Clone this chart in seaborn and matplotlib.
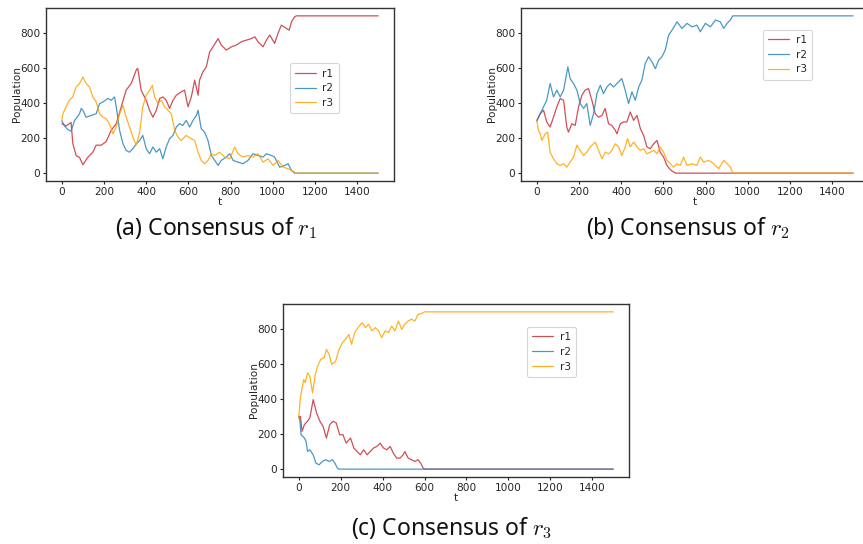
import numpy as np
import pandas as pd
import matplotlib
matplotlib.use("Agg")
import matplotlib.pyplot as plt
import seaborn as sns

# ---------------- data ----------------
T_END = 1500

# Panel (a): consensus of r1
a_t_r1 = [0, 20, 44, 52, 68, 84, 100, 123, 147, 163, 187, 210, 234, 258, 282, 305, 329, 353, 360,
          376, 400, 416, 432, 448, 464, 479, 495, 511, 527, 543, 566, 582, 598, 614, 630, 646, 653,
          669, 685, 701, 717, 741, 756, 780, 804, 828, 851, 875, 899, 915, 930, 954, 970, 986, 1009,
          1025, 1041, 1065, 1078, 1089, 1104, 1112, 1500]
a_r1 = [283, 270, 290, 170, 100, 90, 48, 90, 120, 160, 160, 180, 245, 283, 380, 475, 513, 590, 600,
        475, 417, 360, 320, 360, 427, 436, 417, 370, 417, 446, 465, 475, 380, 436, 532, 446, 532,
        580, 608, 694, 723, 770, 733, 704, 723, 733, 752, 761, 770, 780, 752, 723, 761, 790, 742,
        800, 847, 828, 818, 866, 895, 900, 900]

a_t_r2 = [0, 13, 28, 44, 60, 84, 92, 100, 115, 139, 163, 179, 195, 218, 234, 250, 258, 274, 290,
          305, 321, 337, 353, 369, 384, 400, 416, 432, 448, 464, 479, 495, 511, 527, 543, 558, 574,
          590, 606, 622, 638, 646, 661, 677, 693, 709, 725, 741, 756, 780, 796, 812, 835, 859, 883,
          906, 930, 954, 970, 994, 1009, 1033, 1057, 1073, 1089, 1104, 1500]
a_r2 = [300, 270, 250, 240, 300, 340, 370, 360, 320, 330, 340, 398, 407, 427, 417, 436, 380, 245, 168,
        130, 120, 140, 168, 187, 216, 140, 111, 150, 120, 140, 82, 150, 197, 216, 264, 283, 273,
        302, 264, 302, 330, 360, 254, 235, 187, 101, 73, 44, 73, 92, 111, 73, 63, 54, 73,
        111, 101, 92, 111, 101, 92, 34, 44, 54, 15, 0, 0]

a_t_r3 = [0, 5, 20, 36, 52, 68, 84, 100, 115, 131, 147, 163, 179, 195, 210, 226, 242, 258, 274, 290,
          305, 321, 337, 353, 369, 384, 400, 416, 429, 440, 456, 472, 487, 503, 519, 535, 551, 566,
          590, 614, 630, 646, 661, 677, 693, 709, 725, 748, 772, 796, 820, 835, 859, 883, 906, 930,
          954, 978, 1002, 1025, 1049, 1073, 1097, 1109, 1500]
a_r3 = [300, 340, 380, 417, 436, 493, 513, 550, 513, 493, 436, 407, 340, 320, 312, 283, 225, 264, 340, 388,
        320, 264, 206, 160, 235, 380, 446, 475, 503, 436, 398, 417, 380, 360, 340, 245, 206, 187,
        216, 197, 187, 120, 73, 54, 73, 111, 101, 120, 92, 82, 150, 111, 92, 101, 92, 111,
        63, 82, 44, 73, 34, 25, 11, 0, 0]

# Panel (b): consensus of r2
b_t_r1 = [0, 16, 32, 47, 63, 79, 95, 111, 127, 142, 150, 166, 182, 198, 214, 229, 245, 261, 277,
          293, 309, 324, 340, 356, 372, 380, 396, 411, 427, 443, 459, 475, 491, 506, 522, 538, 554,
          570, 585, 601, 617, 633, 657, 1500]
b_r1 = [300, 340, 360, 293, 264, 320, 380, 427, 417, 264, 235, 283, 273, 380, 446, 475, 484, 417, 340,
        320, 330, 370, 283, 273, 245, 225, 283, 293, 293, 350, 302, 330, 254, 216, 150, 140, 168,
        187, 120, 92, 44, 19, 0, 0]

b_t_r2 = [0, 16, 32, 47, 63, 79, 95, 111, 127, 147, 158, 174, 190, 206, 222, 237, 253, 269, 285,
          301, 316, 332, 348, 364, 380, 403, 419, 435, 451, 467, 483, 498, 514, 530, 546, 562, 578,
          593, 609, 625, 641, 665, 688, 712, 736, 759, 775, 799, 823, 847, 870, 886, 902, 918, 929, 1500]
b_r2 = [300, 340, 380, 417, 513, 436, 475, 436, 475, 608, 541, 513, 475, 398, 370, 398, 273, 340, 455,
        503, 455, 493, 513, 493, 513, 541, 475, 398, 465, 417, 493, 532, 627, 666, 637, 598, 647,
        666, 704, 790, 818, 866, 828, 857, 837, 847, 809, 857, 837, 876, 866, 828, 857, 876, 900, 900]

b_t_r3 = [0, 8, 16, 24, 40, 51, 63, 79, 95, 111, 127, 142, 158, 174, 190, 206, 222, 237, 253, 277,
          293, 309, 324, 340, 356, 372, 388, 403, 419, 430, 443, 459, 475, 491, 506, 522, 538, 554,
          570, 585, 601, 617, 633, 649, 665, 680, 696, 712, 736, 759, 775, 791, 815, 839, 862, 886,
          902, 918, 929, 1500]
b_r3 = [300, 245, 225, 187, 225, 235, 120, 82, 54, 44, 54, 34, 63, 92, 160, 130, 101, 120, 150, 178,
        130, 82, 120, 111, 130, 168, 150, 101, 150, 197, 150, 178, 150, 130, 140, 111, 120, 130,
        111, 150, 120, 73, 54, 34, 54, 44, 92, 44, 54, 44, 92, 63, 73, 54, 25, 73,
        54, 34, 0, 0]

# Panel (c): consensus of r3
c_t_r1 = [0, 8, 16, 27, 42, 53, 69, 85, 101, 116, 132, 148, 164, 179, 195, 211, 226, 247, 263, 278,
          294, 310, 326, 341, 357, 373, 388, 404, 420, 436, 451, 467, 483, 498, 506, 522, 538, 554,
          569, 582, 593, 601, 1500]
c_r1 = [300, 302, 216, 255, 274, 293, 398, 322, 274, 245, 178, 255, 274, 264, 197, 197, 149, 178, 121, 101,
        82, 111, 82, 101, 121, 130, 149, 121, 111, 130, 92, 63, 63, 82, 101, 63, 54, 44,
        54, 34, 6, 0, 0]

c_t_r2 = [0, 6, 11, 19, 27, 35, 42, 53, 69, 82, 97, 113, 129, 145, 160, 173, 184, 192, 1500]
c_r2 = [300, 274, 197, 188, 178, 159, 101, 111, 82, 34, 25, 44, 54, 44, 54, 34, 6, 0, 0]

c_t_r3 = [0, 8, 16, 24, 31, 42, 53, 66, 79, 90, 105, 121, 132, 145, 157, 176, 192, 208, 223, 239,
          252, 267, 283, 302, 318, 333, 349, 365, 381, 396, 412, 428, 443, 459, 475, 491, 506, 522,
          538, 554, 569, 585, 601, 1500]
c_r3 = [300, 408, 465, 513, 494, 551, 532, 436, 542, 590, 628, 637, 685, 657, 599, 618, 685, 724, 743, 771,
        714, 781, 810, 838, 810, 829, 791, 810, 791, 752, 791, 781, 819, 791, 848, 800, 829, 848,
        858, 848, 886, 890, 900, 900]

series_names = ["r1", "r2", "r3"]
colors = ["#c8303a", "#2a86bb", "#ffa500"]
captions = [r"(a) Consensus of $r_1$", r"(b) Consensus of $r_2$", r"(c) Consensus of $r_3$"]


def long_frame(ts, vs):
    parts = []
    for name, t, v in zip(series_names, ts, vs):
        parts.append(pd.DataFrame({"t": t, "Population": v, "series": name}))
    return pd.concat(parts, ignore_index=True)


panels = [
    long_frame([a_t_r1, a_t_r2, a_t_r3], [a_r1, a_r2, a_r3]),
    long_frame([b_t_r1, b_t_r2, b_t_r3], [b_r1, b_r2, b_r3]),
    long_frame([c_t_r1, c_t_r2, c_t_r3], [c_r1, c_r2, c_r3]),
]

# ---------------- figure ----------------
sns.set_style("ticks")
plt.rcParams["font.family"] = ["DejaVu Sans"]
plt.rcParams["mathtext.fontset"] = "cm"

W, H = 863, 544
fig = plt.figure(figsize=(W / 100, H / 100), dpi=100)
rects = [
    [46 / W, 1 - 181 / H, 348 / W, 173 / H],
    [521 / W, 1 - 181 / H, 348 / W, 173 / H],
    [283 / W, 1 - 477 / H, 346 / W, 173 / H],
]
legend_anchor = [(0.70, 0.68), (0.695, 0.875), (0.705, 0.868)]
cap_pos = [(216, 228), (688, 228), (451, 528)]

palette = dict(zip(series_names, colors))
fs = 7.6
for i, (df, rect) in enumerate(zip(panels, rects)):
    ax = fig.add_axes(rect)
    sns.lineplot(data=df, x="t", y="Population", hue="series", palette=palette,
                 estimator=None, sort=False, linewidth=0.9, alpha=0.85, ax=ax)
    ax.set_xlim(-75, 1575)
    ax.set_ylim(-45, 945)
    ax.set_xticks([0, 200, 400, 600, 800, 1000, 1200, 1400])
    ax.set_yticks([0, 200, 400, 600, 800])
    ax.tick_params(labelsize=fs, length=2.5, width=0.8, pad=1.5, color="#222222")
    ax.set_xlabel("t", fontsize=fs, labelpad=0)
    ax.set_ylabel("Population", fontsize=fs, labelpad=-1)
    for sp in ax.spines.values():
        sp.set_linewidth(1.0)
        sp.set_color("#333333")
    leg = ax.legend(loc="upper left", bbox_to_anchor=legend_anchor[i], fontsize=fs,
                    frameon=True, borderpad=0.5, labelspacing=0.45, handlelength=2.0,
                    handletextpad=0.6, borderaxespad=0)
    leg.get_frame().set_edgecolor("#cccccc")
    leg.get_frame().set_linewidth(0.8)
    cx, cy = cap_pos[i]
    fig.text(cx / W, 1 - cy / H, captions[i], ha="center", va="center",
             fontsize=16.5, family=["Noto Sans", "DejaVu Sans"], color="#111111")

fig.savefig("out.png", dpi=100)
